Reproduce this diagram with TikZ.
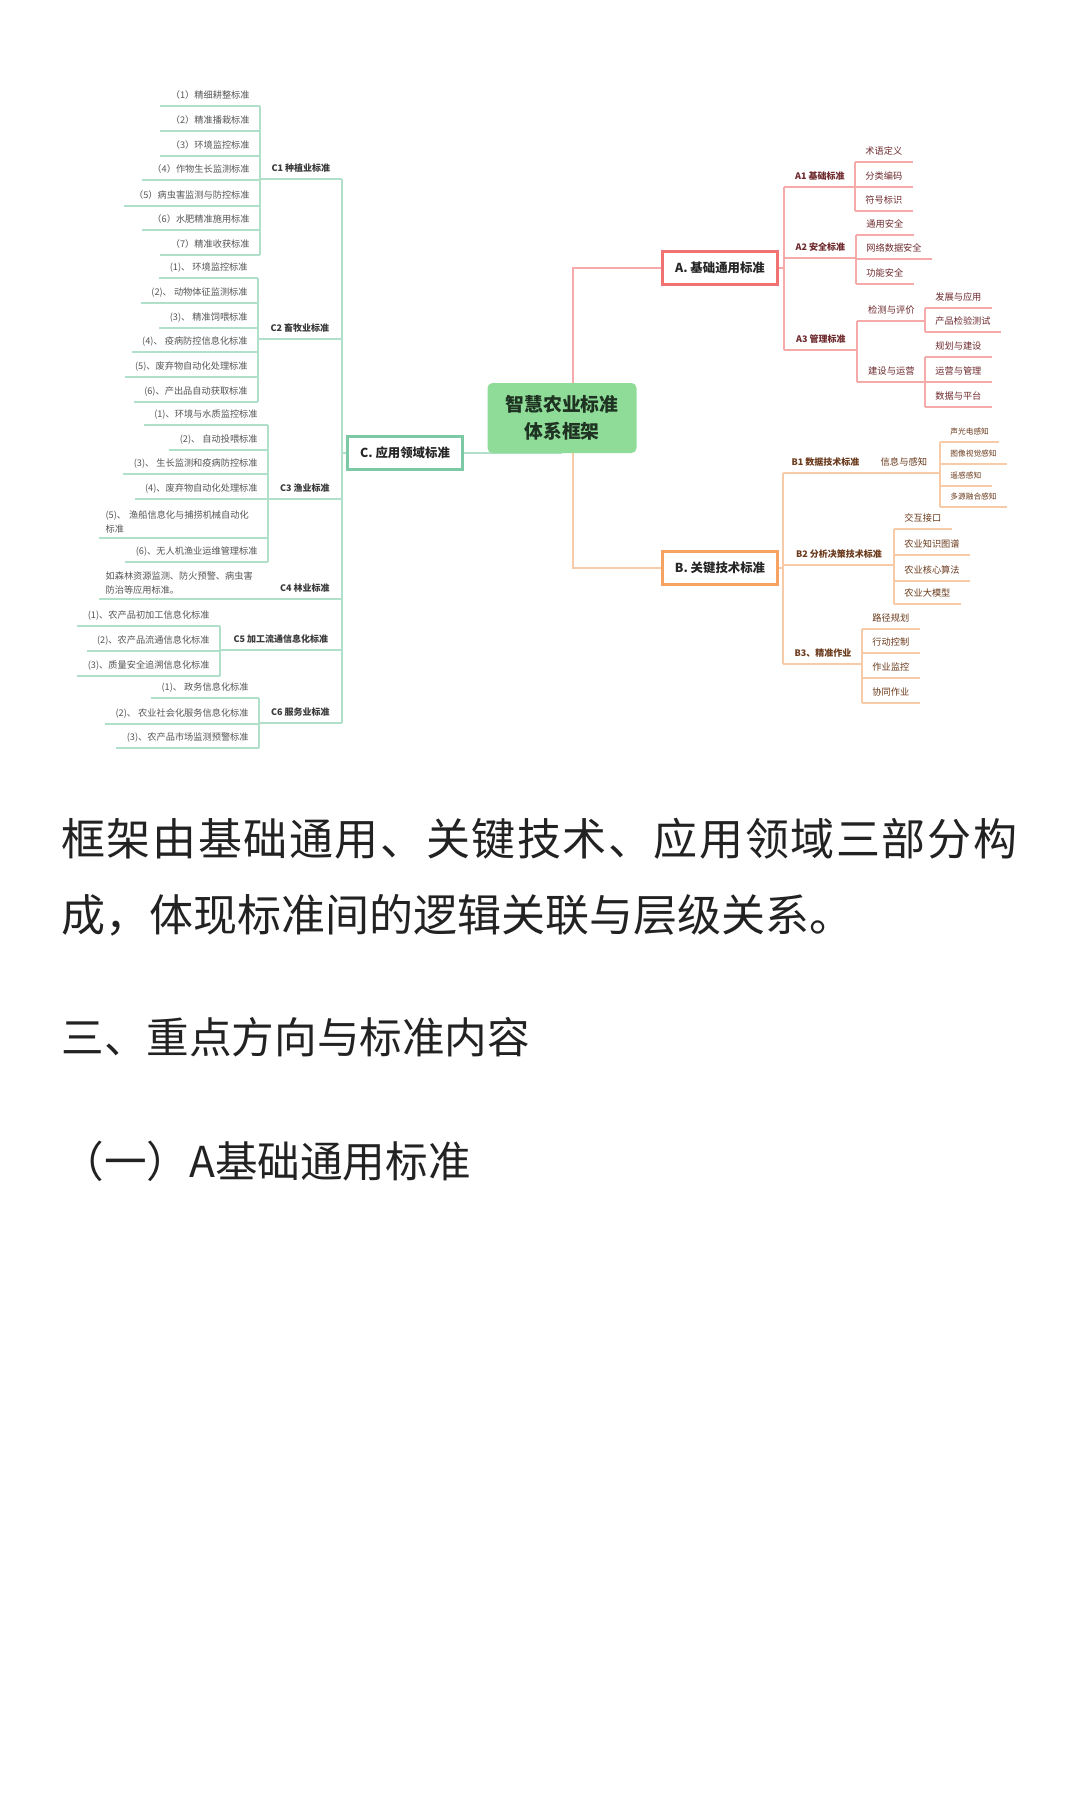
\documentclass[tikz,border=0pt]{standalone}
\usepackage{fontspec}
\setmainfont{Noto Sans CJK SC}
\newfontfamily\paraWide{Noto Sans CJK SC}[LetterSpace=3.6]
\usetikzlibrary{positioning, backgrounds}

\definecolor{rootGreen}{HTML}{8FDC98}
\definecolor{rootInk}{HTML}{1F3322}
\definecolor{cBorder}{HTML}{7CC9A6}
\definecolor{cStroke}{HTML}{B0E0CA}
\definecolor{cInk}{HTML}{555555}
\definecolor{cCatInk}{HTML}{3A3A3A}
\definecolor{aBorder}{HTML}{F07272}
\definecolor{aStroke}{HTML}{F6AAAA}
\definecolor{aInk}{HTML}{6E2A2E}
\definecolor{bBorder}{HTML}{F5A263}
\definecolor{bStroke}{HTML}{F8CBA8}
\definecolor{bInk}{HTML}{6A3A1C}
\definecolor{bodyInk}{HTML}{222222}

\tikzstyle{rootNode} = [rectangle, rounded corners=2.5pt, fill=rootGreen, text=rootInk, minimum width=74.5pt, minimum height=35pt, align=center, font=\fontsize{9.4}{13.5}\selectfont\bfseries]
\tikzstyle{branchNode} = [rectangle, fill=white, line width=1.5pt, minimum width=57.5pt, minimum height=16.5pt, text=black!85, font=\fontsize{6.2}{7}\selectfont\bfseries]
\tikzstyle{catNode} = [inner xsep=0pt, inner ysep=2.6pt, text height=.8em, text depth=.12em, font=\fontsize{4.5}{6}\selectfont\bfseries]
\tikzstyle{midNode} = [inner xsep=0pt, inner ysep=2.6pt, text height=.8em, text depth=.12em, font=\fontsize{4.65}{6}\selectfont]
\tikzstyle{leafNode} = [inner xsep=5pt, inner ysep=2.6pt, text height=.8em, text depth=.12em, font=\fontsize{4.6}{6.5}\selectfont]
\tikzstyle{tinyLeaf} = [leafNode, font=\fontsize{3.85}{5}\selectfont]
\tikzstyle{wrapLeaf} = [inner xsep=3pt, inner ysep=2.4pt, text width=78pt, align=left, font=\fontsize{4.6}{6.8}\selectfont]
\tikzstyle{greenLine} = [line width=.75pt, draw=cStroke]
\tikzstyle{redLine} = [line width=.75pt, draw=aStroke]
\tikzstyle{orangeLine} = [line width=.75pt, draw=bStroke]
\tikzstyle{paraText} = [inner sep=0pt, text=bodyInk, font=\fontsize{22}{26}\selectfont]
\tikzstyle{headText} = [inner sep=0pt, text=bodyInk, font=\fontsize{21.3}{26}\selectfont]

\begin{document}
\begin{tikzpicture}[x=0.5pt, y=-0.5pt]

    \useasboundingbox (0,0) rectangle (1080,1800);

    \node (root) [rootNode] at (562,418) {智慧农业标准\\体系框架};

    \node (stdA) [branchNode, draw=aBorder] at (720,268) {A. 基础通用标准};
    \node (stdB) [branchNode, draw=bBorder] at (720,568) {B. 关键技术标准};
    \node (stdC) [branchNode, draw=cBorder] at (405,453) {C. 应用领域标准};
    \coordinate (split) at (573,418);

    % C1
    \node (cCat1) [catNode, text=cCatInk, minimum width=40.5pt, anchor=south west] at (260,179) {C1 种植业标准};
    \foreach \k/\txt/\y in {1/{（1）精细耕整标准}/106, 2/{（2）精准播栽标准}/131, 3/{（3）环境监控标准}/156, 4/{（4）作物生长监测标准}/180, 5/{（5）病虫害监测与防控标准}/206, 6/{（6）水肥精准施用标准}/230, 7/{（7）精准收获标准}/255} {
        \node (c1leaf\k) [leafNode, text=cInk, anchor=south east] at (260,\y) {\txt};
        \draw [greenLine] (c1leaf\k.south west) -- (c1leaf\k.south east);
    }
    \draw [greenLine] (c1leaf1.south east) -- (c1leaf7.south east);

    % C2
    \node (cCat2) [catNode, text=cCatInk, minimum width=41.5pt, anchor=south west] at (258,339) {C2 畜牧业标准};
    \foreach \k/\txt/\y in {1/{(1)、 环境监控标准}/278, 2/{(2)、 动物体征监测标准}/303, 3/{(3)、 精准饲喂标准}/328, 4/{(4)、 疫病防控信息化标准}/352, 5/{(5)、废弃物自动化处理标准}/377, 6/{(6)、产出品自动获取标准}/402} {
        \node (c2leaf\k) [leafNode, text=cInk, anchor=south east] at (258,\y) {\txt};
        \draw [greenLine] (c2leaf\k.south west) -- (c2leaf\k.south east);
    }
    \draw [greenLine] (c2leaf1.south east) -- (c2leaf6.south east);

    % C3
    \node (cCat3) [catNode, text=cCatInk, minimum width=36.5pt, anchor=south west] at (268,499) {C3 渔业标准};
    \foreach \k/\txt/\y in {1/{(1)、环境与水质监控标准}/425, 2/{(2)、 自动投喂标准}/450, 3/{(3)、 生长监测和疫病防控标准}/474, 4/{(4)、废弃物自动化处理标准}/499, 6/{(6)、无人机渔业运维管理标准}/562} {
        \node (c3leaf\k) [leafNode, text=cInk, anchor=south east] at (268,\y) {\txt};
        \draw [greenLine] (c3leaf\k.south west) -- (c3leaf\k.south east);
    }
    \node (c3leaf5) [wrapLeaf, text=cInk, anchor=south east] at (268,538) {(5)、 渔船信息化与捕捞机械自动化\\标准};
    \draw [greenLine] (c3leaf5.south west) -- (c3leaf5.south east);
    \draw [greenLine] (c3leaf1.south east) -- (c3leaf6.south east);

    % C4
    \node (cCat4) [catNode, text=cCatInk, minimum width=36.5pt, anchor=south west] at (268,599) {C4 林业标准};
    \node (c4leaf1) [wrapLeaf, text=cInk, anchor=south east] at (268,599) {如森林资源监测、防火预警、病虫害\\防治等应用标准。};
    \draw [greenLine] (c4leaf1.south west) -- (c4leaf1.south east);

    % C5
    \node (cCat5) [catNode, text=cCatInk, minimum width=60.5pt, anchor=south west] at (220,650) {C5 加工流通信息化标准};
    \foreach \k/\txt/\y in {1/{(1)、农产品初加工信息化标准}/626, 2/{(2)、农产品流通信息化标准}/651, 3/{(3)、质量安全追溯信息化标准}/676} {
        \node (c5leaf\k) [leafNode, text=cInk, anchor=south east] at (220,\y) {\txt};
        \draw [greenLine] (c5leaf\k.south west) -- (c5leaf\k.south east);
    }
    \draw [greenLine] (c5leaf1.south east) -- (c5leaf3.south east);

    % C6
    \node (cCat6) [catNode, text=cCatInk, minimum width=41pt, anchor=south west] at (259,723) {C6 服务业标准};
    \foreach \k/\txt/\y in {1/{(1)、 政务信息化标准}/698, 2/{(2)、 农业社会化服务信息化标准}/724, 3/{(3)、农产品市场监测预警标准}/748} {
        \node (c6leaf\k) [leafNode, text=cInk, anchor=south east] at (259,\y) {\txt};
        \draw [greenLine] (c6leaf\k.south west) -- (c6leaf\k.south east);
    }
    \draw [greenLine] (c6leaf1.south east) -- (c6leaf3.south east);

    \foreach \c in {1,...,6} {
        \draw [greenLine] (cCat\c.south west) -- (cCat\c.south east);
    }
    \draw [greenLine] (cCat1.south east) -- (cCat6.south east);
    \draw [greenLine] (stdC.west) -- (stdC.west -| cCat1.south east);

    % A
    \node (aCat1) [catNode, text=aInk, minimum width=35.5pt, anchor=south west] at (784,187) {A1 基础标准};
    \foreach \k/\txt/\y in {1/术语定义/162, 2/分类编码/187, 3/符号标识/211} {
        \node (a1leaf\k) [leafNode, text=aInk, anchor=south west] at (855,\y) {\txt};
        \draw [redLine] (a1leaf\k.south west) -- (a1leaf\k.south east);
    }
    \draw [redLine] (a1leaf1.south west) -- (a1leaf3.south west);

    \node (aCat2) [catNode, text=aInk, minimum width=36pt, anchor=south west] at (784,258) {A2 安全标准};
    \foreach \k/\txt/\y in {1/通用安全/235, 2/网络数据安全/259, 3/功能安全/284} {
        \node (a2leaf\k) [leafNode, text=aInk, anchor=south west] at (856,\y) {\txt};
        \draw [redLine] (a2leaf\k.south west) -- (a2leaf\k.south east);
    }
    \draw [redLine] (a2leaf1.south west) -- (a2leaf3.south west);

    \node (aCat3) [catNode, text=aInk, minimum width=36.5pt, anchor=south west] at (784,350) {A3 管理标准};
    \node (aTest) [midNode, text=aInk, minimum width=34pt, anchor=south west] at (857,321) {检测与评价};
    \node (aBuild) [midNode, text=aInk, minimum width=34pt, anchor=south west] at (857,382) {建设与运营};
    \foreach \k/\txt/\y in {1/发展与应用/308, 2/产品检验测试/332} {
        \node (a3test\k) [leafNode, text=aInk, anchor=south west] at (925,\y) {\txt};
        \draw [redLine] (a3test\k.south west) -- (a3test\k.south east);
    }
    \foreach \k/\txt/\y in {1/规划与建设/357, 2/运营与管理/382, 3/数据与平台/407} {
        \node (a3build\k) [leafNode, text=aInk, anchor=south west] at (925,\y) {\txt};
        \draw [redLine] (a3build\k.south west) -- (a3build\k.south east);
    }
    \draw [redLine] (a3test1.south west) -- (a3test2.south west);
    \draw [redLine] (a3build1.south west) -- (a3build3.south west);
    \draw [redLine] (aTest.south west) -- (aTest.south east);
    \draw [redLine] (aBuild.south west) -- (aBuild.south east);
    \draw [redLine] (aTest.south west) -- (aBuild.south west);

    \foreach \c in {1,2,3} {
        \draw [redLine] (aCat\c.south west) -- (aCat\c.south east);
    }
    \draw [redLine] (aCat1.south west) -- (aCat3.south west);
    \draw [redLine] (stdA.east) -- (stdA.east -| aCat1.south west);

    % B
    \node (bCat1) [catNode, text=bInk, minimum width=42pt, anchor=south west] at (783,473) {B1 数据技术标准};
    \node (bSense) [midNode, text=bInk, minimum width=36.5pt, anchor=south west] at (867,473) {信息与感知};
    \foreach \k/\txt/\y in {1/声光电感知/442, 2/图像视觉感知/464, 3/遥感感知/486, 4/多源融合感知/507} {
        \node (b1leaf\k) [tinyLeaf, text=bInk, anchor=south west] at (940,\y) {\txt};
        \draw [orangeLine] (b1leaf\k.south west) -- (b1leaf\k.south east);
    }
    \draw [orangeLine] (b1leaf1.south west) -- (b1leaf4.south west);
    \draw [orangeLine] (bSense.south west) -- (bSense.south east);

    \node (bCat2) [catNode, text=bInk, minimum width=55.5pt, anchor=south west] at (783,565) {B2 分析决策技术标准};
    \foreach \k/\txt/\y in {1/交互接口/529, 2/农业知识图谱/555, 3/农业核心算法/581, 4/农业大模型/604} {
        \node (b2leaf\k) [leafNode, text=bInk, anchor=south west] at (894,\y) {\txt};
        \draw [orangeLine] (b2leaf\k.south west) -- (b2leaf\k.south east);
    }
    \draw [orangeLine] (b2leaf1.south west) -- (b2leaf4.south west);

    \node (bCat3) [catNode, text=bInk, minimum width=39.5pt, anchor=south west] at (783,664) {B3、精准作业};
    \foreach \k/\txt/\y in {1/路径规划/629, 2/行动控制/653, 3/作业监控/678, 4/协同作业/703} {
        \node (b3leaf\k) [leafNode, text=bInk, anchor=south west] at (862,\y) {\txt};
        \draw [orangeLine] (b3leaf\k.south west) -- (b3leaf\k.south east);
    }
    \draw [orangeLine] (b3leaf1.south west) -- (b3leaf4.south west);

    \foreach \c in {1,2,3} {
        \draw [orangeLine] (bCat\c.south west) -- (bCat\c.south east);
    }
    \draw [orangeLine] (bCat1.south west) -- (bCat3.south west);
    \draw [orangeLine] (stdB.east) -- (stdB.east -| bCat1.south west);

    % links under the centre box
    \begin{scope}[on background layer]
        \fill [white] (0,0) rectangle (1080,1800);
        \draw [redLine] (split) |- (stdA.west);
        \draw [orangeLine] (split) |- (stdB.west);
        \draw [greenLine] (stdC.east) -- (stdC.east -| root.center);
    \end{scope}

    % text below
    \node (para1) [paraText, anchor=west] at (61,839) {\paraWide 框架由基础通用、关键技术、应用领域三部分构};
    \node (para2) [paraText, anchor=west] at (61,915) {成，体现标准间的逻辑关联与层级关系。};
    \node (head1) [headText, anchor=west] at (61,1037) {三、重点方向与标准内容};
    \node (head2) [headText, anchor=west] at (61,1161) {（一）A基础通用标准};

\end{tikzpicture}
\end{document}
